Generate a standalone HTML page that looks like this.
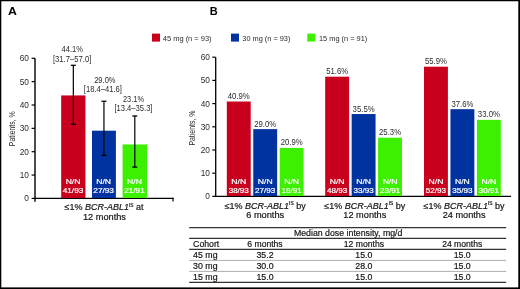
<!DOCTYPE html>
<html><head><meta charset="utf-8"><style>
html,body{margin:0;padding:0;background:#fff;}
.fig{position:relative;width:520px;height:289px;overflow:hidden;background:#fff;}
svg{position:absolute;left:0;top:0;font-family:"Liberation Sans", sans-serif;will-change:transform;}
</style></head><body><div class="fig">
<svg width="520" height="289" viewBox="0 0 520 289">
<rect x="0" y="0" width="520" height="1.25" fill="#000"/><rect x="0" y="0" width="1.3" height="289" fill="#000"/><rect x="518.3" y="0" width="1.7" height="289" fill="#000"/><rect x="0" y="287.4" width="520" height="1.6" fill="#000"/>
<text x="8.1" y="15.3" font-size="11.6" fill="#000" font-weight="bold" textLength="8.9" lengthAdjust="spacingAndGlyphs">A</text>
<line x1="35.00" y1="58.30" x2="35.00" y2="201.80" stroke="#000" stroke-width="1.4"/>
<line x1="31.60" y1="198.40" x2="35.00" y2="198.40" stroke="#000" stroke-width="1.2"/>
<text x="28.9" y="201.3" font-size="8.3" fill="#2a2a2a" text-anchor="end">0</text>
<line x1="31.60" y1="175.05" x2="35.00" y2="175.05" stroke="#000" stroke-width="1.2"/>
<text x="28.9" y="177.95000000000002" font-size="8.3" fill="#2a2a2a" text-anchor="end">10</text>
<line x1="31.60" y1="151.70" x2="35.00" y2="151.70" stroke="#000" stroke-width="1.2"/>
<text x="28.9" y="154.6" font-size="8.3" fill="#2a2a2a" text-anchor="end">20</text>
<line x1="31.60" y1="128.35" x2="35.00" y2="128.35" stroke="#000" stroke-width="1.2"/>
<text x="28.9" y="131.25000000000003" font-size="8.3" fill="#2a2a2a" text-anchor="end">30</text>
<line x1="31.60" y1="105.00" x2="35.00" y2="105.00" stroke="#000" stroke-width="1.2"/>
<text x="28.9" y="107.9" font-size="8.3" fill="#2a2a2a" text-anchor="end">40</text>
<line x1="31.60" y1="81.65" x2="35.00" y2="81.65" stroke="#000" stroke-width="1.2"/>
<text x="28.9" y="84.55000000000001" font-size="8.3" fill="#2a2a2a" text-anchor="end">50</text>
<line x1="31.60" y1="58.30" x2="35.00" y2="58.30" stroke="#000" stroke-width="1.2"/>
<text x="28.9" y="61.20000000000001" font-size="8.3" fill="#2a2a2a" text-anchor="end">60</text>
<text transform="translate(14.6,128.8) rotate(-90)" font-size="9.3" fill="#2a2a2a" text-anchor="middle" textLength="34.8" lengthAdjust="spacingAndGlyphs">Patients, %</text>
<line x1="34.30" y1="198.40" x2="173.60" y2="198.40" stroke="#000" stroke-width="1.2"/>
<line x1="173.00" y1="197.80" x2="173.00" y2="201.60" stroke="#000" stroke-width="1.2"/>
<rect x="61.20" y="95.43" width="24.25" height="102.57" fill="#c8001e"/>
<text x="73.025" y="183.9" font-size="7.1" fill="#fff" text-anchor="middle" textLength="14.8" lengthAdjust="spacingAndGlyphs" stroke="#fff" stroke-width="0.2">N/N</text>
<text x="73.025" y="192.5" font-size="7.1" fill="#fff" text-anchor="middle" textLength="20.6" lengthAdjust="spacingAndGlyphs" stroke="#fff" stroke-width="0.2">41/93</text>
<rect x="92.00" y="130.69" width="23.90" height="67.31" fill="#0033a0"/>
<text x="103.65" y="183.9" font-size="7.1" fill="#fff" text-anchor="middle" textLength="14.8" lengthAdjust="spacingAndGlyphs" stroke="#fff" stroke-width="0.2">N/N</text>
<text x="103.65" y="192.5" font-size="7.1" fill="#fff" text-anchor="middle" textLength="20.6" lengthAdjust="spacingAndGlyphs" stroke="#fff" stroke-width="0.2">27/93</text>
<rect x="122.60" y="144.46" width="24.40" height="53.54" fill="#3cf000"/>
<text x="134.5" y="183.9" font-size="7.1" fill="#fff" text-anchor="middle" textLength="14.8" lengthAdjust="spacingAndGlyphs" stroke="#fff" stroke-width="0.2">N/N</text>
<text x="134.5" y="192.5" font-size="7.1" fill="#fff" text-anchor="middle" textLength="20.6" lengthAdjust="spacingAndGlyphs" stroke="#fff" stroke-width="0.2">21/91</text>
<line x1="73.33" y1="65.31" x2="73.33" y2="124.38" stroke="#000" stroke-width="1.2"/>
<line x1="70.83" y1="65.31" x2="75.83" y2="65.31" stroke="#000" stroke-width="1.3"/>
<line x1="70.83" y1="124.38" x2="75.83" y2="124.38" stroke="#000" stroke-width="1.3"/>
<line x1="103.95" y1="101.26" x2="103.95" y2="155.44" stroke="#000" stroke-width="1.2"/>
<line x1="101.45" y1="101.26" x2="106.45" y2="101.26" stroke="#000" stroke-width="1.3"/>
<line x1="101.45" y1="155.44" x2="106.45" y2="155.44" stroke="#000" stroke-width="1.3"/>
<line x1="134.80" y1="115.97" x2="134.80" y2="167.11" stroke="#000" stroke-width="1.2"/>
<line x1="132.30" y1="115.97" x2="137.30" y2="115.97" stroke="#000" stroke-width="1.3"/>
<line x1="132.30" y1="167.11" x2="137.30" y2="167.11" stroke="#000" stroke-width="1.3"/>
<text x="72.3" y="51.9" font-size="8.3" fill="#2a2a2a" text-anchor="middle" textLength="21.4" lengthAdjust="spacingAndGlyphs">44.1%</text>
<text x="72.1" y="62.3" font-size="8.3" fill="#2a2a2a" text-anchor="middle" textLength="38.4" lengthAdjust="spacingAndGlyphs">[31.7–57.0]</text>
<text x="104.85" y="82.7" font-size="8.3" fill="#2a2a2a" text-anchor="middle" textLength="21.3" lengthAdjust="spacingAndGlyphs">29.0%</text>
<text x="102.85" y="91.5" font-size="8.3" fill="#2a2a2a" text-anchor="middle" textLength="38.1" lengthAdjust="spacingAndGlyphs">[18.4–41.6]</text>
<text x="133.5" y="101.6" font-size="8.3" fill="#2a2a2a" text-anchor="middle" textLength="21.0" lengthAdjust="spacingAndGlyphs">23.1%</text>
<text x="133.45" y="111.3" font-size="8.3" fill="#2a2a2a" text-anchor="middle" textLength="38.1" lengthAdjust="spacingAndGlyphs">[13.4–35.3]</text>
<text x="104" y="210" font-size="8.8" fill="#111" stroke="#111" stroke-width="0.18" text-anchor="middle" textLength="79" lengthAdjust="spacingAndGlyphs">≤1% <tspan font-style="italic">BCR-ABL1</tspan><tspan font-size="4.7" dy="-3.2">IS</tspan><tspan dy="3.2"> at</tspan></text>
<text x="104.45" y="220" font-size="8.8" fill="#111" text-anchor="middle" textLength="43" lengthAdjust="spacingAndGlyphs" stroke="#111" stroke-width="0.18">12 months</text>
<text x="209.8" y="14.9" font-size="11.0" fill="#000" font-weight="bold">B</text>
<rect x="152.00" y="33.60" width="8.00" height="8.00" fill="#c8001e"/>
<text x="162.8" y="40.7" font-size="7.6" fill="#2a2a2a" textLength="48.8" lengthAdjust="spacingAndGlyphs">45 mg (n = 93)</text>
<rect x="231.00" y="33.60" width="8.00" height="8.00" fill="#0033a0"/>
<text x="242.3" y="40.7" font-size="7.6" fill="#2a2a2a" textLength="48.1" lengthAdjust="spacingAndGlyphs">30 mg (n = 93)</text>
<rect x="307.30" y="33.60" width="8.00" height="8.00" fill="#3cf000"/>
<text x="319" y="40.7" font-size="7.6" fill="#2a2a2a" textLength="48.2" lengthAdjust="spacingAndGlyphs">15 mg (n = 91)</text>
<line x1="215.70" y1="57.20" x2="215.70" y2="196.40" stroke="#000" stroke-width="1.3"/>
<line x1="212.30" y1="196.40" x2="215.70" y2="196.40" stroke="#000" stroke-width="1.2"/>
<text x="209.9" y="199.3" font-size="8.3" fill="#2a2a2a" text-anchor="end">0</text>
<line x1="212.30" y1="173.20" x2="215.70" y2="173.20" stroke="#000" stroke-width="1.2"/>
<text x="209.9" y="176.10000000000002" font-size="8.3" fill="#2a2a2a" text-anchor="end">10</text>
<line x1="212.30" y1="150.00" x2="215.70" y2="150.00" stroke="#000" stroke-width="1.2"/>
<text x="209.9" y="152.9" font-size="8.3" fill="#2a2a2a" text-anchor="end">20</text>
<line x1="212.30" y1="126.80" x2="215.70" y2="126.80" stroke="#000" stroke-width="1.2"/>
<text x="209.9" y="129.70000000000002" font-size="8.3" fill="#2a2a2a" text-anchor="end">30</text>
<line x1="212.30" y1="103.60" x2="215.70" y2="103.60" stroke="#000" stroke-width="1.2"/>
<text x="209.9" y="106.50000000000001" font-size="8.3" fill="#2a2a2a" text-anchor="end">40</text>
<line x1="212.30" y1="80.40" x2="215.70" y2="80.40" stroke="#000" stroke-width="1.2"/>
<text x="209.9" y="83.30000000000003" font-size="8.3" fill="#2a2a2a" text-anchor="end">50</text>
<line x1="212.30" y1="57.20" x2="215.70" y2="57.20" stroke="#000" stroke-width="1.2"/>
<text x="209.9" y="60.100000000000016" font-size="8.3" fill="#2a2a2a" text-anchor="end">60</text>
<text transform="translate(194.7,128.1) rotate(-90)" font-size="9.3" fill="#2a2a2a" text-anchor="middle" textLength="35" lengthAdjust="spacingAndGlyphs">Patients, %</text>
<line x1="215.10" y1="196.40" x2="511.10" y2="196.40" stroke="#000" stroke-width="1.2"/>
<rect x="226.80" y="101.51" width="23.90" height="94.49" fill="#c8001e"/>
<text x="238.75" y="99.01200000000001" font-size="8.3" fill="#2a2a2a" text-anchor="middle" textLength="22" lengthAdjust="spacingAndGlyphs">40.9%</text>
<text x="238.75" y="184.0" font-size="7.1" fill="#fff" text-anchor="middle" textLength="14.8" lengthAdjust="spacingAndGlyphs" stroke="#fff" stroke-width="0.2">N/N</text>
<text x="238.75" y="192.6" font-size="7.1" fill="#fff" text-anchor="middle" textLength="20.2" lengthAdjust="spacingAndGlyphs" stroke="#fff" stroke-width="0.2">38/93</text>
<rect x="253.25" y="129.12" width="23.90" height="66.88" fill="#0033a0"/>
<text x="265.2" y="126.62" font-size="8.3" fill="#2a2a2a" text-anchor="middle" textLength="22" lengthAdjust="spacingAndGlyphs">29.0%</text>
<text x="265.2" y="184.0" font-size="7.1" fill="#fff" text-anchor="middle" textLength="14.8" lengthAdjust="spacingAndGlyphs" stroke="#fff" stroke-width="0.2">N/N</text>
<text x="265.2" y="192.6" font-size="7.1" fill="#fff" text-anchor="middle" textLength="20.2" lengthAdjust="spacingAndGlyphs" stroke="#fff" stroke-width="0.2">27/93</text>
<rect x="279.70" y="147.91" width="23.90" height="48.09" fill="#3cf000"/>
<text x="291.65" y="145.412" font-size="8.3" fill="#2a2a2a" text-anchor="middle" textLength="22" lengthAdjust="spacingAndGlyphs">20.9%</text>
<text x="291.65" y="184.0" font-size="7.1" fill="#fff" text-anchor="middle" textLength="14.8" lengthAdjust="spacingAndGlyphs" stroke="#fff" stroke-width="0.2">N/N</text>
<text x="291.65" y="192.6" font-size="7.1" fill="#fff" text-anchor="middle" textLength="20.2" lengthAdjust="spacingAndGlyphs" stroke="#fff" stroke-width="0.2">19/91</text>
<rect x="325.20" y="76.69" width="23.90" height="119.31" fill="#c8001e"/>
<text x="337.15" y="74.18800000000002" font-size="8.3" fill="#2a2a2a" text-anchor="middle" textLength="22" lengthAdjust="spacingAndGlyphs">51.6%</text>
<text x="337.15" y="184.0" font-size="7.1" fill="#fff" text-anchor="middle" textLength="14.8" lengthAdjust="spacingAndGlyphs" stroke="#fff" stroke-width="0.2">N/N</text>
<text x="337.15" y="192.6" font-size="7.1" fill="#fff" text-anchor="middle" textLength="20.2" lengthAdjust="spacingAndGlyphs" stroke="#fff" stroke-width="0.2">48/93</text>
<rect x="351.65" y="114.04" width="23.90" height="81.96" fill="#0033a0"/>
<text x="363.59999999999997" y="111.54" font-size="8.3" fill="#2a2a2a" text-anchor="middle" textLength="22" lengthAdjust="spacingAndGlyphs">35.5%</text>
<text x="363.59999999999997" y="184.0" font-size="7.1" fill="#fff" text-anchor="middle" textLength="14.8" lengthAdjust="spacingAndGlyphs" stroke="#fff" stroke-width="0.2">N/N</text>
<text x="363.59999999999997" y="192.6" font-size="7.1" fill="#fff" text-anchor="middle" textLength="20.2" lengthAdjust="spacingAndGlyphs" stroke="#fff" stroke-width="0.2">33/93</text>
<rect x="378.10" y="137.70" width="23.90" height="58.30" fill="#3cf000"/>
<text x="390.04999999999995" y="135.204" font-size="8.3" fill="#2a2a2a" text-anchor="middle" textLength="22" lengthAdjust="spacingAndGlyphs">25.3%</text>
<text x="390.04999999999995" y="184.0" font-size="7.1" fill="#fff" text-anchor="middle" textLength="14.8" lengthAdjust="spacingAndGlyphs" stroke="#fff" stroke-width="0.2">N/N</text>
<text x="390.04999999999995" y="192.6" font-size="7.1" fill="#fff" text-anchor="middle" textLength="20.2" lengthAdjust="spacingAndGlyphs" stroke="#fff" stroke-width="0.2">23/91</text>
<rect x="424.00" y="66.71" width="23.90" height="129.29" fill="#c8001e"/>
<text x="435.95" y="64.21200000000002" font-size="8.3" fill="#2a2a2a" text-anchor="middle" textLength="22" lengthAdjust="spacingAndGlyphs">55.9%</text>
<text x="435.95" y="184.0" font-size="7.1" fill="#fff" text-anchor="middle" textLength="14.8" lengthAdjust="spacingAndGlyphs" stroke="#fff" stroke-width="0.2">N/N</text>
<text x="435.95" y="192.6" font-size="7.1" fill="#fff" text-anchor="middle" textLength="20.2" lengthAdjust="spacingAndGlyphs" stroke="#fff" stroke-width="0.2">52/93</text>
<rect x="450.45" y="109.17" width="23.90" height="86.83" fill="#0033a0"/>
<text x="462.4" y="106.668" font-size="8.3" fill="#2a2a2a" text-anchor="middle" textLength="22" lengthAdjust="spacingAndGlyphs">37.6%</text>
<text x="462.4" y="184.0" font-size="7.1" fill="#fff" text-anchor="middle" textLength="14.8" lengthAdjust="spacingAndGlyphs" stroke="#fff" stroke-width="0.2">N/N</text>
<text x="462.4" y="192.6" font-size="7.1" fill="#fff" text-anchor="middle" textLength="20.2" lengthAdjust="spacingAndGlyphs" stroke="#fff" stroke-width="0.2">35/93</text>
<rect x="476.90" y="119.84" width="23.90" height="76.16" fill="#3cf000"/>
<text x="488.84999999999997" y="117.34000000000002" font-size="8.3" fill="#2a2a2a" text-anchor="middle" textLength="22" lengthAdjust="spacingAndGlyphs">33.0%</text>
<text x="488.84999999999997" y="184.0" font-size="7.1" fill="#fff" text-anchor="middle" textLength="14.8" lengthAdjust="spacingAndGlyphs" stroke="#fff" stroke-width="0.2">N/N</text>
<text x="488.84999999999997" y="192.6" font-size="7.1" fill="#fff" text-anchor="middle" textLength="20.2" lengthAdjust="spacingAndGlyphs" stroke="#fff" stroke-width="0.2">30/91</text>
<text x="265.20" y="208.5" font-size="8.6" fill="#111" stroke="#111" stroke-width="0.18" text-anchor="middle" textLength="81" lengthAdjust="spacingAndGlyphs">≤1% <tspan font-style="italic">BCR-ABL1</tspan><tspan font-size="4.7" dy="-3.2">IS</tspan><tspan dy="3.2"> by</tspan></text>
<text x="265.2" y="218.4" font-size="8.8" fill="#111" text-anchor="middle" textLength="38" lengthAdjust="spacingAndGlyphs" stroke="#111" stroke-width="0.18">6 months</text>
<text x="364.80" y="208.5" font-size="8.6" fill="#111" stroke="#111" stroke-width="0.18" text-anchor="middle" textLength="81" lengthAdjust="spacingAndGlyphs">≤1% <tspan font-style="italic">BCR-ABL1</tspan><tspan font-size="4.7" dy="-3.2">IS</tspan><tspan dy="3.2"> by</tspan></text>
<text x="364.8" y="218.4" font-size="8.8" fill="#111" text-anchor="middle" textLength="42.9" lengthAdjust="spacingAndGlyphs" stroke="#111" stroke-width="0.18">12 months</text>
<text x="464.10" y="208.5" font-size="8.6" fill="#111" stroke="#111" stroke-width="0.18" text-anchor="middle" textLength="81" lengthAdjust="spacingAndGlyphs">≤1% <tspan font-style="italic">BCR-ABL1</tspan><tspan font-size="4.7" dy="-3.2">IS</tspan><tspan dy="3.2"> by</tspan></text>
<text x="464.1" y="218.4" font-size="8.8" fill="#111" text-anchor="middle" textLength="42.9" lengthAdjust="spacingAndGlyphs" stroke="#111" stroke-width="0.18">24 months</text>
<line x1="189.20" y1="227.60" x2="506.20" y2="227.60" stroke="#333" stroke-width="1.3"/>
<line x1="189.20" y1="238.30" x2="506.20" y2="238.30" stroke="#333" stroke-width="1.3"/>
<line x1="189.20" y1="249.40" x2="506.20" y2="249.40" stroke="#333" stroke-width="1.3"/>
<line x1="189.20" y1="260.40" x2="506.20" y2="260.40" stroke="#999" stroke-width="0.8"/>
<line x1="189.20" y1="271.40" x2="506.20" y2="271.40" stroke="#999" stroke-width="0.8"/>
<line x1="189.20" y1="282.30" x2="506.20" y2="282.30" stroke="#333" stroke-width="1.3"/>
<text x="348.2" y="235.8" font-size="8.3" fill="#111" text-anchor="middle" textLength="108.5" lengthAdjust="spacingAndGlyphs" stroke="#111" stroke-width="0.18">Median dose intensity, mg/d</text>
<text x="193.1" y="247" font-size="8.8" fill="#111" textLength="26.2" lengthAdjust="spacingAndGlyphs" stroke="#111" stroke-width="0.18">Cohort</text>
<text x="265.0" y="247" font-size="8.6" fill="#111" text-anchor="middle" stroke="#111" stroke-width="0.18">6 months</text>
<text x="363.9" y="247" font-size="8.6" fill="#111" text-anchor="middle" stroke="#111" stroke-width="0.18">12 months</text>
<text x="462.2" y="247" font-size="8.6" fill="#111" text-anchor="middle" stroke="#111" stroke-width="0.18">24 months</text>
<text x="193.1" y="257.9" font-size="8.8" fill="#111" stroke="#111" stroke-width="0.18">45 mg</text>
<text x="265.0" y="257.9" font-size="8.8" fill="#111" text-anchor="middle" stroke="#111" stroke-width="0.18">35.2</text>
<text x="363.9" y="257.9" font-size="8.8" fill="#111" text-anchor="middle" stroke="#111" stroke-width="0.18">15.0</text>
<text x="462.2" y="257.9" font-size="8.8" fill="#111" text-anchor="middle" stroke="#111" stroke-width="0.18">15.0</text>
<text x="193.1" y="268.7" font-size="8.8" fill="#111" stroke="#111" stroke-width="0.18">30 mg</text>
<text x="265.0" y="268.7" font-size="8.8" fill="#111" text-anchor="middle" stroke="#111" stroke-width="0.18">30.0</text>
<text x="363.9" y="268.7" font-size="8.8" fill="#111" text-anchor="middle" stroke="#111" stroke-width="0.18">28.0</text>
<text x="462.2" y="268.7" font-size="8.8" fill="#111" text-anchor="middle" stroke="#111" stroke-width="0.18">15.0</text>
<text x="193.1" y="279.5" font-size="8.8" fill="#111" stroke="#111" stroke-width="0.18">15 mg</text>
<text x="265.0" y="279.5" font-size="8.8" fill="#111" text-anchor="middle" stroke="#111" stroke-width="0.18">15.0</text>
<text x="363.9" y="279.5" font-size="8.8" fill="#111" text-anchor="middle" stroke="#111" stroke-width="0.18">15.0</text>
<text x="462.2" y="279.5" font-size="8.8" fill="#111" text-anchor="middle" stroke="#111" stroke-width="0.18">15.0</text>
</svg></div></body></html>
